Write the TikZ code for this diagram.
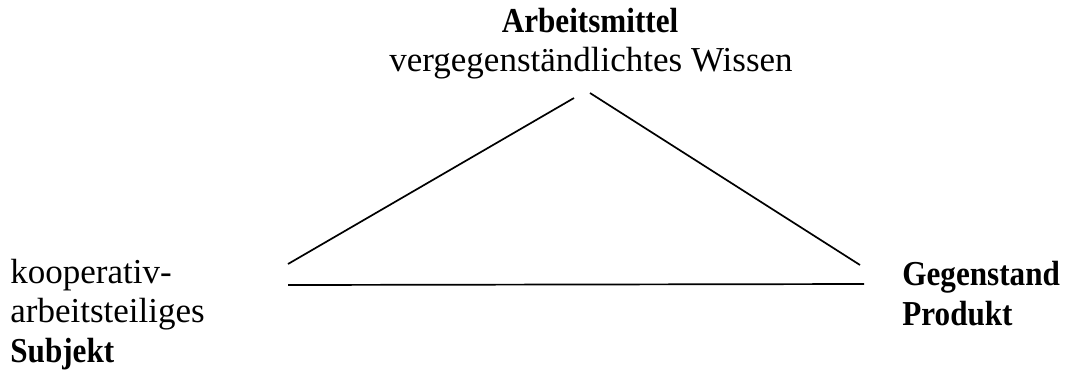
\documentclass[tikz,border=0pt]{standalone}
\usepackage{fontspec}
\usepackage{graphicx}
\setmainfont{Liberation Serif}
\newcommand{\bcond}[1]{\scalebox{0.89}[1]{\bfseries #1}}
\begin{document}
\begin{tikzpicture}[x=0.5pt,y=-0.5pt,
  lbl/.style={inner sep=0pt,font=\fontsize{17.5}{20}\selectfont},
  bl/.style={inner sep=0pt,font=\fontsize{17.5}{20}\selectfont\bfseries},
  edge/.style={line width=0.85pt,black}]
\useasboundingbox (0,0) rectangle (1070,371);
\node[bl,anchor=base] (am) at (590,32) {\bcond{Arbeitsmittel}};
\node[lbl,anchor=base] (vw) at (591,71) {vergegenständlichtes Wissen};
\node[lbl,anchor=base west] (s1) at (10,283) {kooperativ-};
\node[lbl,anchor=base west] (s2) at (10,322) {arbeitsteiliges};
\node[bl,anchor=base west] (s3) at (10,362) {\bcond{Subjekt}};
\node[bl,anchor=base west] (g1) at (902,285) {\bcond{Gegenstand}};
\node[bl,anchor=base west] (g2) at (902,325) {\bcond{Produkt}};
\coordinate (lt) at (574,98);
\coordinate (rt) at (590,93);
\coordinate (lb) at (288,264);
\coordinate (rb) at (860,265);
\coordinate (hl) at (288,285);
\coordinate (hr) at (864,284);
\draw[edge] (lb) -- (lt);
\draw[edge] (rt) -- (rb);
\draw[edge] (hl) -- (hr);
\end{tikzpicture}
\end{document}
